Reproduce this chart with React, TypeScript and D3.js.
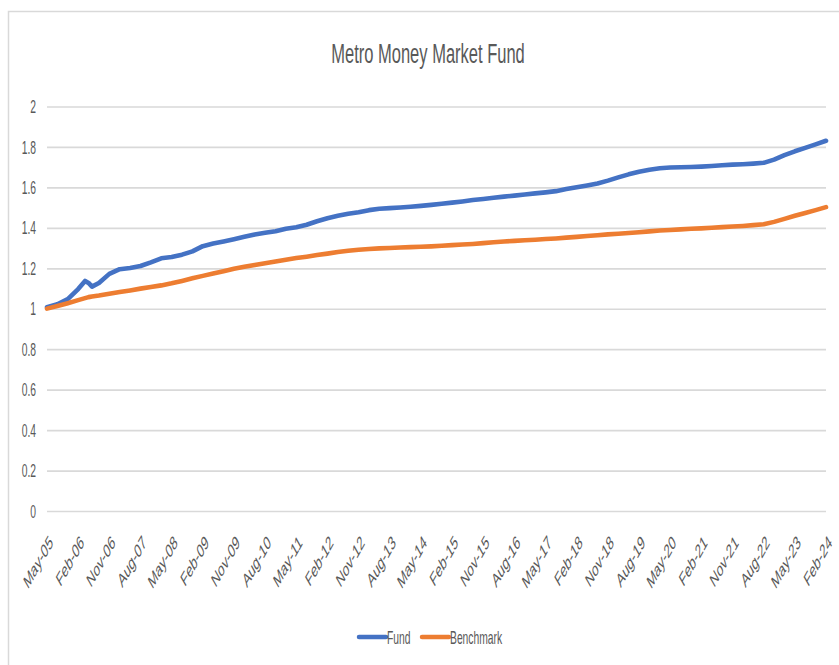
import React from "react";
import * as d3 from "d3";

const sampleMonths = [
  0, 3, 6, 9, 11, 12, 13, 15, 18, 21, 24, 27, 30, 33, 36, 39, 42, 45, 48, 51, 54, 57, 60,
  63, 66, 69, 72, 75, 78, 81, 84, 87, 90, 93, 96, 99, 102, 105, 108, 111, 114, 117, 120,
  123, 126, 129, 132, 135, 138, 141, 144, 147, 150, 153, 156, 159, 162, 165, 168, 171,
  174, 177, 180, 183, 186, 189, 192, 195, 198, 201, 204, 207, 210, 213, 216, 219, 222, 225,
];

const fund = [
  1.01, 1.025, 1.05, 1.1, 1.14, 1.13, 1.112, 1.13, 1.175, 1.198, 1.204, 1.214, 1.232, 1.252,
  1.258, 1.27, 1.286, 1.312, 1.325, 1.335, 1.346, 1.358, 1.37, 1.378, 1.386, 1.398, 1.405,
  1.418, 1.435, 1.45, 1.462, 1.472, 1.48, 1.49, 1.497, 1.5, 1.503, 1.507, 1.511, 1.516, 1.522,
  1.527, 1.533, 1.54, 1.545, 1.551, 1.557, 1.562, 1.567, 1.573, 1.578, 1.584, 1.594, 1.603,
  1.612, 1.622, 1.636, 1.652, 1.667, 1.68, 1.69, 1.697, 1.701, 1.702, 1.703, 1.705, 1.708,
  1.712, 1.715, 1.717, 1.72, 1.724, 1.74, 1.762, 1.781, 1.798, 1.815, 1.833,
];

const benchmark = [
  1.003, 1.016, 1.03, 1.045, 1.055, 1.06, 1.063, 1.068, 1.077, 1.085, 1.093, 1.102, 1.11,
  1.118, 1.128, 1.14, 1.153, 1.165, 1.177, 1.188, 1.2, 1.21, 1.219, 1.227, 1.236, 1.245,
  1.253, 1.26, 1.268, 1.275, 1.283, 1.289, 1.294, 1.298, 1.301, 1.303, 1.305, 1.307, 1.309,
  1.311, 1.314, 1.317, 1.32, 1.323, 1.327, 1.331, 1.335, 1.338, 1.341, 1.344, 1.347, 1.35,
  1.354, 1.358, 1.362, 1.366, 1.37, 1.373, 1.377, 1.381, 1.385, 1.389, 1.392, 1.395, 1.398,
  1.4, 1.403, 1.406, 1.409, 1.412, 1.416, 1.42, 1.432, 1.447, 1.462, 1.476, 1.49, 1.505,
];

// category labels, one every 9 months
const tickLabels = [
  "May-05", "Feb-06", "Nov-06", "Aug-07", "May-08", "Feb-09", "Nov-09", "Aug-10", "May-11",
  "Feb-12", "Nov-12", "Aug-13", "May-14", "Feb-15", "Nov-15", "Aug-16", "May-17", "Feb-18",
  "Nov-18", "Aug-19", "May-20", "Feb-21", "Nov-21", "Aug-22", "May-23", "Feb-24",
];
const yTicks = [0, 0.2, 0.4, 0.6, 0.8, 1, 1.2, 1.4, 1.6, 1.8, 2];

const series = [
  { name: "Fund", values: fund, color: "#4472C4" },
  { name: "Benchmark", values: benchmark, color: "#ED7D31" },
];

const W = 839;
const H = 665;
const SX = 0.59; // the whole picture is squeezed sideways
const FONT = "'Liberation Sans', Arial, sans-serif";
const GREY = "#595959";

export default function App() {
  const x = d3.scaleLinear().domain([0, 225]).range([47, 826]);
  const y = d3.scaleLinear().domain([0, 2]).range([511.5, 107]);

  const line = d3
    .line<number>()
    .x((_, i) => x(sampleMonths[i]))
    .y((d) => y(d));

  return (
    <svg
      width={W}
      height={H}
      style={{ position: "absolute", left: 0, top: 0, background: "#fff" }}
      fontFamily={FONT}
    >
      <rect x={8.5} y={11.5} width={900} height={700} fill="#fff" stroke="#d9d9d9" strokeWidth={1.5} />

      <text
        transform={`translate(428,63) scale(${SX},1)`}
        textAnchor="middle"
        fontSize={28}
        fill={GREY}
      >
        Metro Money Market Fund
      </text>

      {yTicks.map((t) => (
        <g key={t}>
          <line x1={47} x2={826} y1={y(t)} y2={y(t)} stroke="#d9d9d9" strokeWidth={1.7} />
          <text
            transform={`translate(36,${y(t)}) scale(${SX},1)`}
            textAnchor="end"
            dominantBaseline="central"
            fontSize={17.5}
            fill={GREY}
          >
            {d3.format("~g")(t)}
          </text>
        </g>
      ))}

      {tickLabels.map((lab, i) => (
        <text
          key={lab}
          transform={`translate(${x(i * 9) + 4},539) scale(0.56,1) rotate(-45)`}
          textAnchor="end"
          dominantBaseline="central"
          fontSize={19.5}
          fill={GREY}
        >
          {lab}
        </text>
      ))}

      {series.map((s) => (
        <path
          key={s.name}
          d={line(s.values) ?? ""}
          fill="none"
          stroke={s.color}
          strokeWidth={4.6}
          strokeLinejoin="round"
          strokeLinecap="round"
        />
      ))}

      {series.map((s, i) => {
        const lx = i === 0 ? 359 : 422;
        return (
          <g key={s.name}>
            <line x1={lx} x2={lx + 27} y1={637} y2={637} stroke={s.color} strokeWidth={4.5} strokeLinecap="round" />
            <text
              transform={`translate(${lx + 28},643.5) scale(${SX},1)`}
              fontSize={17.5}
              fill={GREY}
            >
              {s.name}
            </text>
          </g>
        );
      })}
    </svg>
  );
}
